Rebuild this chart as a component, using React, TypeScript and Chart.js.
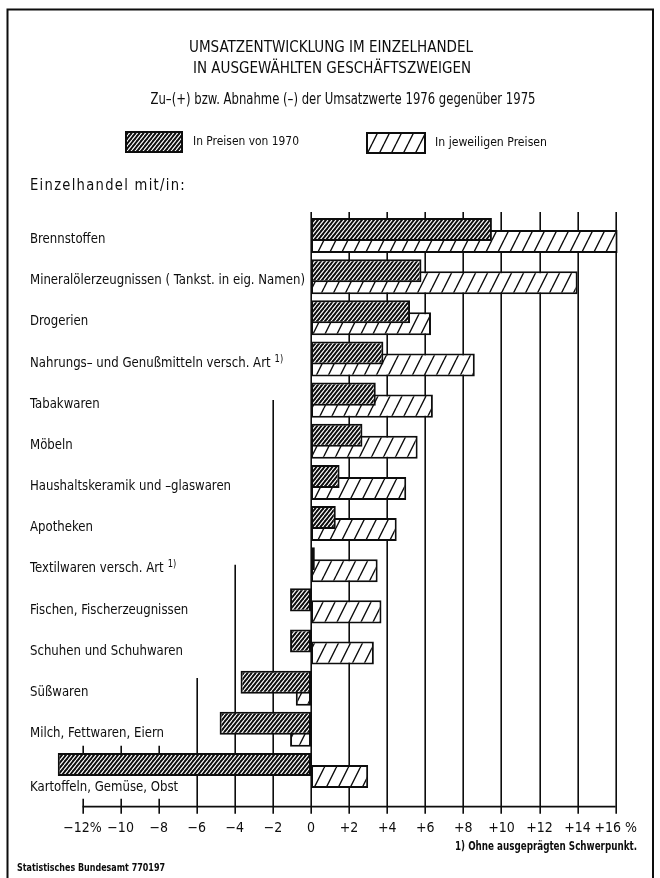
import React, { useEffect, useRef } from 'react';
import { Chart, registerables } from 'chart.js';

Chart.register(...registerables);

// ---------- data ----------
const CATEGORIES = [
  'Brennstoffen',
  'Mineralölerzeugnissen ( Tankst. in eig. Namen)',
  'Drogerien',
  'Nahrungs– und Genußmitteln versch. Art 1)',
  'Tabakwaren',
  'Möbeln',
  'Haushaltskeramik und –glaswaren',
  'Apotheken',
  'Textilwaren versch. Art 1)',
  'Fischen, Fischerzeugnissen',
  'Schuhen und Schuhwaren',
  'Süßwaren',
  'Milch, Fettwaren, Eiern',
  'Kartoffeln, Gemüse, Obst',
];
const PREISE_1970 = [9.5, 5.8, 5.2, 3.8, 3.4, 2.7, 1.5, 1.3, 0.2, -1.1, -1.1, -3.7, -4.8, -13.3];
const JEWEILIGE_PREISE = [16.1, 14.0, 6.3, 8.6, 6.4, 5.6, 5.0, 4.5, 3.5, 3.7, 3.3, -0.8, -1.1, 3.0];
const SERIES_LABELS = ['In Preisen von 1970', 'In jeweiligen Preisen'];
const X_TICKS = [-12, -10, -8, -6, -4, -2, 0, 2, 4, 6, 8, 10, 12, 14, 16];
const X_TICK_LABELS = ['−12%', '−10', '−8', '−6', '−4', '−2', '0', '+2', '+4', '+6', '+8', '+10', '+12', '+14', '+16 %'];
const TITLE_LINES = ['UMSATZENTWICKLUNG IM EINZELHANDEL', 'IN AUSGEWÄHLTEN GESCHÄFTSZWEIGEN'];
const SUBTITLE = 'Zu–(+) bzw. Abnahme (–) der Umsatzwerte 1976 gegenüber 1975';
const AXIS_HEADING = 'Einzelhandel mit/in:';
const FOOTNOTE = '1) Ohne ausgeprägten Schwerpunkt.';
const SOURCE = 'Statistisches Bundesamt 770197';
const FOOTNOTE_MARK = ' 1)';

// ---------- style ----------
const INK = '#0d0d0d';
const W = 660;
const H = 878;

function fontAvailable(name: string): boolean {
  const c = document.createElement('canvas').getContext('2d')!;
  const probe = 'mmmmmmmmmmlliiWWQ@#0123456789abc';
  for (const base of ['monospace', 'serif', 'sans-serif']) {
    c.font = `40px ${base}`;
    const a = c.measureText(probe).width;
    c.font = `40px "${name}", ${base}`;
    const b = c.measureText(probe).width;
    if (Math.abs(a - b) > 0.01) return true;
  }
  return false;
}

function pickFamily(): string {
  if (fontAvailable('Liberation Sans Narrow')) return '"Liberation Sans Narrow", "Liberation Sans", sans-serif';
  if (fontAvailable('DejaVu Sans Condensed')) return '"DejaVu Sans Condensed", "Liberation Sans", sans-serif';
  return '"Liberation Sans", Arial, sans-serif';
}

function makePattern(ctx: CanvasRenderingContext2D, w: number, h: number, bg: string, fg: string, lw: number) {
  const c = document.createElement('canvas');
  c.width = w;
  c.height = h;
  const g = c.getContext('2d')!;
  g.fillStyle = bg;
  g.fillRect(0, 0, w, h);
  g.strokeStyle = fg;
  g.lineWidth = lw;
  g.beginPath();
  for (const dx of [-w, 0, w]) {
    g.moveTo(dx, h);
    g.lineTo(dx + w, 0);
  }
  g.stroke();
  return ctx.createPattern(c, 'repeat')!;
}

export default function App() {
  const ref = useRef<HTMLCanvasElement>(null);

  useEffect(() => {
    const canvas = ref.current!;
    const ctx = canvas.getContext('2d')!;
    const FAM = pickFamily();
    const darkPat = makePattern(ctx, 4, 5, INK, '#ffffff', 1.15);
    const lightPat = makePattern(ctx, 12, 24, '#ffffff', INK, 1.4);

    const text = (
      c: CanvasRenderingContext2D,
      s: string,
      x: number,
      y: number,
      size: number,
      opts: { weight?: string; align?: CanvasTextAlign; width?: number; sx?: number; spacing?: number } = {}
    ) => {
      c.save();
      c.font = `${opts.weight || 'normal'} ${size}px ${FAM}`;
      (c as any).letterSpacing = `${opts.spacing || 0}px`;
      const w = c.measureText(s).width;
      const sx = opts.width ? opts.width / w : opts.sx || 1;
      c.translate(x, y);
      c.scale(sx, 1);
      c.textAlign = opts.align || 'left';
      c.textBaseline = 'middle';
      c.fillStyle = INK;
      c.fillText(s, 0, 0);
      c.restore();
      return w * sx;
    };

    const measure = (s: string, size: number, weight = 'normal') => {
      ctx.save();
      ctx.font = `${weight} ${size}px ${FAM}`;
      const w = ctx.measureText(s).width;
      ctx.restore();
      return w;
    };

    const CAT_SIZE = 14;
    const catScale = 275 / measure(CATEGORIES[1], CAT_SIZE);

    const decor = {
      id: 'decor',
      beforeDraw(chart: any) {
        const c = chart.ctx as CanvasRenderingContext2D;
        c.save();
        c.fillStyle = '#ffffff';
        c.fillRect(0, 0, W, H);
        // frame
        c.strokeStyle = INK;
        c.lineWidth = 2;
        c.beginPath();
        c.moveTo(7.5, H);
        c.lineTo(7.5, 9.5);
        c.lineTo(653, 9.5);
        c.lineTo(653, H);
        c.stroke();
        c.restore();
      },
      beforeDatasetsDraw(chart: any) {
        const c = chart.ctx as CanvasRenderingContext2D;
        const xs = chart.scales.x;
        const ys = chart.scales.y;
        const area = chart.chartArea;
        const y0 = ys.getPixelForValue(0);
        const pitch = ys.getPixelForValue(1) - y0;
        const catY = (f: number) => y0 + f * pitch;
        const axisY = area.bottom + 15.6;
        const startFor = (v: number) => (v >= 0 ? area.top - 3 : v === -2 ? catY(4) : v === -4 ? catY(8) : v === -6 ? catY(10.75) : catY(12.4));
        const endFor = (v: number) => (v <= -8 ? catY(13) : axisY);
        c.save();
        c.strokeStyle = INK;
        c.lineWidth = 1.6;
        c.beginPath();
        for (const v of X_TICKS) {
          const px = Math.round(xs.getPixelForValue(v)) + 0.2;
          c.moveTo(px, startFor(v));
          c.lineTo(px, endFor(v));
          // tick mark across the axis line
          c.moveTo(px, axisY - 8);
          c.lineTo(px, axisY + 7);
        }
        c.stroke();
        c.lineWidth = 1.8;
        c.beginPath();
        c.moveTo(xs.getPixelForValue(X_TICKS[0]), axisY);
        c.lineTo(xs.getPixelForValue(X_TICKS[X_TICKS.length - 1]), axisY);
        c.stroke();
        c.restore();
      },
      afterDraw(chart: any) {
        const c = chart.ctx as CanvasRenderingContext2D;
        const xs = chart.scales.x;
        const ys = chart.scales.y;
        // titles
        text(c, TITLE_LINES[0], 331, 48, 16, { align: 'center', width: 284 });
        text(c, TITLE_LINES[1], 332, 69, 16, { align: 'center', width: 278 });
        text(c, SUBTITLE, 343, 100, 15, { align: 'center', width: 385 });
        // legend
        const boxes = [
          { x: 125, y: 131, w: 58, h: 22, fill: darkPat, tx: 193, tw: 106 },
          { x: 366, y: 132, w: 60, h: 22, fill: lightPat, tx: 435, tw: 112 },
        ];
        boxes.forEach((b, i) => {
          c.save();
          c.fillStyle = b.fill;
          c.fillRect(b.x, b.y, b.w, b.h);
          c.strokeStyle = INK;
          c.lineWidth = 2;
          c.strokeRect(b.x + 1, b.y + 1, b.w - 2, b.h - 2);
          c.restore();
          text(c, chart.data.datasets[i].label, b.tx, b.y + b.h / 2, 13, { width: b.tw });
        });
        // heading of category list
        text(c, AXIS_HEADING, 30, 186, 16, { width: 156, spacing: 1.4 });
        // category labels
        CATEGORIES.forEach((label, i) => {
          const hasMark = label.endsWith(FOOTNOTE_MARK);
          const main = hasMark ? label.slice(0, -FOOTNOTE_MARK.length) : label;
          const w = measure(main, CAT_SIZE) * catScale;
          const right = 30 + w + (hasMark ? 18 : 0);
          const minVal = Math.min(0, PREISE_1970[i], JEWEILIGE_PREISE[i]);
          const barLeft = xs.getPixelForValue(minVal);
          const collides = minVal < 0 && right + 4 > barLeft;
          const cy = ys.getPixelForValue(i) + (collides ? 16.5 : 4);
          text(c, main, 30, cy, CAT_SIZE, { sx: catScale });
          if (hasMark) text(c, FOOTNOTE_MARK.trim(), 30 + w + 4, cy - 4, 10, { sx: catScale });
        });
        // footnotes
        text(c, FOOTNOTE, 455, 847, 12, { weight: 'bold', width: 182 });
        text(c, SOURCE, 17, 868, 11, { weight: 'bold', width: 148 });
      },
    };

    const chart = new Chart(ctx, {
      type: 'bar',
      data: {
        labels: CATEGORIES,
        datasets: [
          {
            label: SERIES_LABELS[0],
            data: PREISE_1970,
            backgroundColor: darkPat as any,
            borderColor: INK,
            borderWidth: 2,
            borderSkipped: false,
            categoryPercentage: 0.583,
            barPercentage: 1.92,
          },
          {
            label: SERIES_LABELS[1],
            data: JEWEILIGE_PREISE,
            backgroundColor: lightPat as any,
            borderColor: INK,
            borderWidth: 2,
            borderSkipped: false,
            categoryPercentage: 0.583,
            barPercentage: 1.92,
          },
        ],
      },
      options: {
        indexAxis: 'y',
        responsive: false,
        animation: false,
        devicePixelRatio: 1,
        events: [],
        layout: { padding: { top: 214.92, left: 44.44, right: 34.8, bottom: 36.92 } },
        plugins: {
          legend: { display: false },
          title: { display: false },
          tooltip: { enabled: false },
        },
        scales: {
          y: { type: 'category', display: false, offset: true },
          x: {
            type: 'linear',
            min: -14,
            max: 16.5,
            afterBuildTicks: (s: any) => {
              s.ticks = X_TICKS.map((v) => ({ value: v }));
            },
            afterFit: (s: any) => {
              s.height = 50;
              s.paddingLeft = 0;
              s.paddingRight = 0;
            },
            grid: { display: false, drawTicks: false },
            border: { display: false },
            ticks: {
              autoSkip: false,
              maxRotation: 0,
              padding: 28.5,
              color: INK,
              font: { family: FAM, size: 14 },
              callback: (v: any) => {
                const i = X_TICKS.indexOf(Number(v));
                return i >= 0 ? X_TICK_LABELS[i] : '';
              },
            },
          },
        },
      },
      plugins: [decor],
    } as any);

    return () => chart.destroy();
  }, []);

  return (
    <div style={{ position: 'absolute', left: 0, top: 0, width: W, height: H, background: '#fff' }}>
      <canvas ref={ref} width={W} height={H} style={{ display: 'block', width: W, height: H }} />
    </div>
  );
}
